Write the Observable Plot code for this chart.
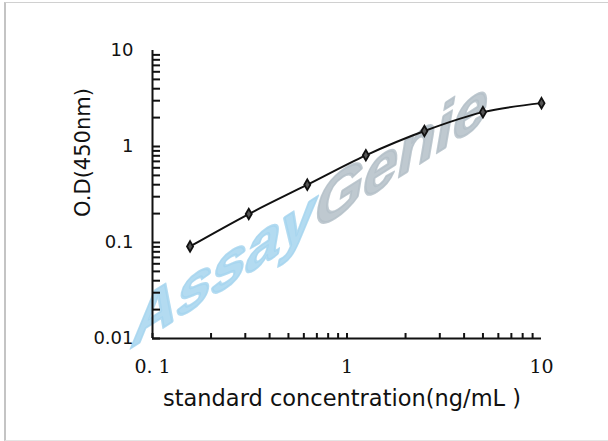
<!DOCTYPE html>
<html>
<head>
<meta charset="utf-8">
<script src="https://cdn.jsdelivr.net/npm/d3@7"></script>
<script src="https://cdn.jsdelivr.net/npm/@observablehq/plot@0.6"></script>
<style>
  html, body { margin: 0; padding: 0; background: #fff; }
  #wrap { position: relative; width: 608px; height: 441px; }
  #border { position: absolute; left: 4px; top: 2px; width: 602px; height: 437px; border-left: 2px solid #c4c4c4; border-top: 1px solid #d0d0d0; border-right: 1px solid #e4e4e4; border-bottom: 1px solid #e4e4e4; pointer-events: none; }
</style>
</head>
<body>
<div id="wrap"><div id="border"></div></div>
<script>
// Data
const concentration = [0.156, 0.3125, 0.625, 1.25, 2.5, 5, 10];
const od = [0.091, 0.198, 0.40, 0.81, 1.45, 2.28, 2.83];
const yTicks = [0.01, 0.1, 1, 10];
const yTickLabels = ["0.01", "0.1", "1", "10"];
const xTicks = [0.1, 1, 10];
const xTickLabels = ["0. 1", "1", "10"];
const xTitle = "standard concentration(ng/mL )";
const yTitle = "O.D(450nm)";
const watermarkA = "Assay";
const watermarkB = "Genie";

const points = concentration.map((c, i) => ({c, od: od[i]}));

function minorTicks(lo, hi) {
  const out = [];
  for (let e = Math.floor(Math.log10(lo)); e < Math.ceil(Math.log10(hi)); e++) {
    for (let m = 1; m <= 9; m++) {
      const v = m * Math.pow(10, e);
      if (v >= lo - 1e-12 && v <= hi + 1e-12) out.push(v);
    }
  }
  return out;
}
const yMinor = minorTicks(0.01, 10);
const xMinor = minorTicks(0.1, 10);

const W = 608, H = 441;
const mL = 152, mR = 67, mT = 50, mB = 103;
const pw = W - mL - mR, ph = H - mT - mB;

const wmStyle = {frameAnchor: "middle", text: d => d, dx: -35, dy: 38, fontSize: 66, fontWeight: "bold", fontFamily: "'Liberation Sans', Arial, sans-serif", strokeWidth: 2.5, strokeLinejoin: "round", fillOpacity: 0.85, strokeOpacity: 0.85};

const chart = Plot.plot({
  width: W,
  height: H,
  marginLeft: mL,
  marginRight: mR,
  marginTop: mT,
  marginBottom: mB,
  style: {fontFamily: "'DejaVu Sans', sans-serif", background: "transparent", color: "#111"},
  x: {type: "log", domain: [0.1, 10]},
  y: {type: "log", domain: [0.01, 10]},
  marks: [
    // watermark
    Plot.text([watermarkA], {...wmStyle, textAnchor: "end", fill: "#a6d5ee", stroke: "#a6d5ee"}),
    Plot.text([watermarkB], {...wmStyle, textAnchor: "start", fill: "#b4bfc8", stroke: "#b4bfc8"}),
    // minor/major ticks pointing inward
    Plot.tickY(yMinor, {y: d => d, insetRight: pw - 8, stroke: "#111", strokeWidth: 2}),
    Plot.tickX(xMinor, {x: d => d, insetTop: ph - 5, stroke: "#111", strokeWidth: 2}),
    // axis lines
    Plot.ruleX([0.1], {stroke: "#111", strokeWidth: 2}),
    Plot.ruleY([0.01], {x1: 0.1, x2: 10, stroke: "#111", strokeWidth: 2}),
    // tick labels
    Plot.axisY({ticks: yTicks, tickFormat: d => yTickLabels[yTicks.indexOf(d)], tickSize: 0, tickPadding: 19, fontSize: 18, label: null, fontFamily: "'DejaVu Sans', sans-serif"}),
    Plot.axisX({ticks: xTicks, tickFormat: d => xTickLabels[xTicks.indexOf(d)], tickSize: 0, tickPadding: 21, fontSize: 19, label: null, fontFamily: "'DejaVu Serif', serif"}),
    // titles
    Plot.text([xTitle], {frameAnchor: "bottom", text: d => d, dx: -5, dy: 60, textAnchor: "middle", lineAnchor: "middle", fontSize: 22.5, fill: "#111"}),
    Plot.text([yTitle], {frameAnchor: "left", text: d => d, dx: -69, dy: -42, rotate: -90, textAnchor: "middle", lineAnchor: "middle", fontSize: 21, fill: "#111"}),
    // curve
    Plot.line(points, {x: "c", y: "od", curve: "catmull-rom", stroke: "#111", strokeWidth: 2}),
    Plot.dot(points, {x: "c", y: "od", symbol: "diamond", r: 3.2, fill: "#555", stroke: "#111", strokeWidth: 1.8})
  ]
});

// slant the watermark like the original (baseline rising, letters leaning right)
Array.from(chart.querySelectorAll("text"))
  .filter(t => t.textContent === watermarkA || t.textContent === watermarkB)
  .forEach(t => {
    const x = +t.getAttribute("x") || 0;
    const y = +t.getAttribute("y") || 0;
    const tr = t.getAttribute("transform") || "";
    t.removeAttribute("x");
    t.removeAttribute("y");
    t.setAttribute("transform", `${tr} translate(${x},${y}) matrix(0.94,-0.6,-0.18,1.05,0,0)`);
    t.setAttribute("dy", "0");
  });

document.getElementById("wrap").prepend(chart);
chart.style.position = "absolute";
chart.style.left = "0px";
chart.style.top = "0px";
</script>
</body>
</html>
